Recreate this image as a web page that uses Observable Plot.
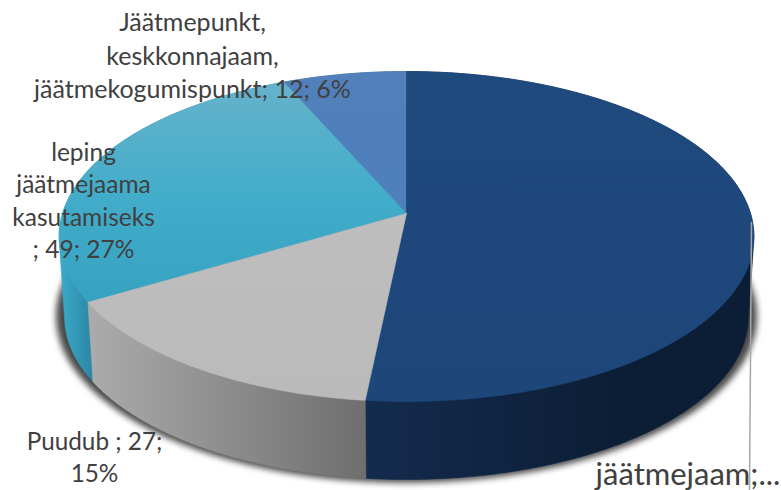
<!DOCTYPE html>
<html>
<head>
<meta charset="utf-8">
<script src="https://cdn.jsdelivr.net/npm/d3@7"></script>
<script src="https://cdn.jsdelivr.net/npm/@observablehq/plot@0.6"></script>
<style>
html,body{margin:0;padding:0;background:#fff}
svg{display:block}
.pie-shadow path{filter:blur(3px)}
</style>
</head>
<body>
<div id="chart"></div>
<script>
// Data
const categories = ["jäätmejaam", "Puudub", "leping jäätmejaama kasutamiseks", "Jäätmepunkt, keskkonnajaam, jäätmekogumispunkt"];
const counts = [94, 27, 49, 12];
const labels = ["jäätmejaam;...", "Puudub ; 27;\n15%", "leping\njäätmejaama\nkasutamiseks\n; 49; 27%", "Jäätmepunkt,\nkeskkonnajaam,\njäätmekogumispunkt; 12; 6%"];
const labelX = [687.5, 94, 83, 192];
const labelY = [471, 455, 198.5, 53.5];
const labelSize = [31, 24.3, 24.5, 25];
const leaderX = [751, 749];
const leaderY = [222, 490];
const topGradients = [
  {id: "t0", axis: "y", from: 70, to: 400, stops: ["#1f4a7e", "#1d4679"]},
  {id: "t1", axis: "y", from: 210, to: 400, stops: ["#bebebe", "#bababa"]},
  {id: "t2", axis: "y", from: 85, to: 305, stops: ["#65b2cb", "#42adca", "#37a1c1"]},
  {id: "t3", axis: "y", from: 75, to: 213, stops: ["#5180ba", "#4e80bc"]}
];
const sideGradients = [
  {id: "s0", axis: "x", from: 365, to: 620, stops: ["#132b4e", "#0c1e35"]},
  {id: "s1", axis: "x", from: 90, to: 365, stops: ["#ababab", "#6f6f6f"]},
  {id: "s2", axis: "x", from: 60, to: 92, stops: ["#3caac9", "#2b86a4"]},
  {id: "s3", axis: "x", from: 280, to: 406, stops: ["#3b6391", "#3b6391"]}
];

// Pie projection
const cx = 406, cy = 213, b = 344, a = 161.8, k = 0.1394;
const lowerScale = 0.984, lowerShift = 81;
function project(deg, scale = 1, shift = 0) {
  const t = deg * Math.PI / 180, X = Math.sin(t), Y = -Math.cos(t), w = 1 / (1 - k * Y);
  return {x: cx + scale * b * X * w, y: cy + scale * a * Y * w + shift};
}
function arc(from, to, scale, shift) {
  const n = Math.max(2, Math.ceil(Math.abs(to - from) * 2)), out = [];
  for (let i = 0; i <= n; i++) out.push(project(from + (to - from) * i / n, scale, shift));
  return out;
}
const total = d3.sum(counts);
let run = 0;
const slices = counts.map((c, i) => { const s = run; run += c; return {i, start: s / total * 360, end: run / total * 360}; });

const topShape = s => { const p = [{x: cx, y: cy}, ...arc(s.start, s.end, 1, 0)]; p.push(p[0]); return p; };
// The wall is the hull of its top and bottom rims, so the silhouette runs straight down the tangent;
// the part reaching inside the disc is hidden by the top faces drawn afterwards.
const sideShape = s => {
  const pts = [...arc(s.start, s.end, 1, 0), ...arc(s.start, s.end, lowerScale, lowerShift)];
  const hull = d3.polygonHull(pts.map(p => [p.x, p.y])).map(([x, y]) => ({x, y}));
  hull.push(hull[0]);
  return hull;
};

function defsMark() {
  const defs = document.createElementNS("http://www.w3.org/2000/svg", "defs");
  defs.innerHTML = [...topGradients, ...sideGradients].map(g => {
    const v = g.axis === "y" ? `x1="0" x2="0" y1="${g.from}" y2="${g.to}"` : `y1="0" y2="0" x1="${g.from}" x2="${g.to}"`;
    return `<linearGradient id="${g.id}" gradientUnits="userSpaceOnUse" ${v}>` +
      g.stops.map((c, j) => `<stop offset="${j / (g.stops.length - 1)}" stop-color="${c}"/>`).join("") + `</linearGradient>`;
  }).join("");
  return defs;
}

const area = (pts, fill, extra = {}) => Plot.line(pts, {x: "x", y: "y", fill, stroke: fill, strokeWidth: 0.6, curve: "linear", ...extra});

const drawOrder = [3, 2, 0, 1];
const chart = Plot.plot({
  width: 781, height: 490,
  margin: 0,
  x: {domain: [0, 781], range: [0, 781], axis: null},
  y: {domain: [0, 490], range: [0, 490], axis: null},
  style: {background: "#fff", fontFamily: "Lato, sans-serif"},
  marks: [
    defsMark,
    Plot.line(arc(0, 360, 1.009, 79.5), {x: "x", y: "y", fill: "#4a4a4a", stroke: "none", className: "pie-shadow"}),
    ...drawOrder.map(i => area(sideShape(slices[i]), `url(#s${i})`)),
    ...drawOrder.map(i => area(topShape(slices[i]), `url(#t${i})`)),
    Plot.line(leaderX.map((x, i) => ({x, y: leaderY[i]})), {x: "x", y: "y", stroke: "#a6a6a6", strokeWidth: 1.5}),
    ...labels.map((t, i) => Plot.text([t], {
      x: labelX[i], y: labelY[i], text: d => d, fontSize: labelSize[i],
      fill: "#404040", lineHeight: 1.33, textAnchor: "middle", lineAnchor: "middle", frameAnchor: "middle",
      fontFamily: "Lato, sans-serif"
    }))
  ]
});
document.getElementById("chart").appendChild(chart);
</script>
</body>
</html>
